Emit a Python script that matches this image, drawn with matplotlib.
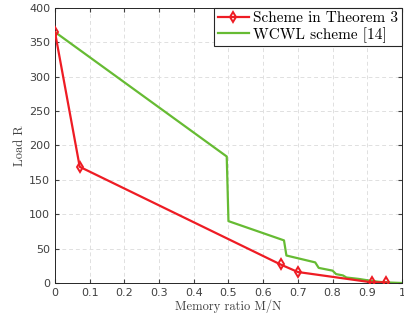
import matplotlib
matplotlib.use("Agg")
import matplotlib.pyplot as plt

red_x = [0, 0.0714, 0.65, 0.70, 0.913, 0.955]
red_y = [365, 169, 27, 16, 1, 1]

green_x = [0, 0.495, 0.50, 0.66, 0.667, 0.75, 0.76, 0.80, 0.81, 0.83, 0.84, 0.875, 0.90, 0.93, 0.95, 1.0]
green_y = [365, 184, 90, 62, 40, 30, 22, 18, 13, 11, 8, 6, 4, 2, 1, 0]

xticks = [0, 0.1, 0.2, 0.3, 0.4, 0.5, 0.6, 0.7, 0.8, 0.9, 1]
xticklabels = ["0", "0.1", "0.2", "0.3", "0.4", "0.5", "0.6", "0.7", "0.8", "0.9", "1"]
yticks = [0, 50, 100, 150, 200, 250, 300, 350, 400]

fig = plt.figure(figsize=(4.04, 3.18), dpi=100)
ax = fig.add_axes([0.136, 0.110, 0.859, 0.865])

ax.plot(red_x, red_y, color="#ee1c24", lw=1.6, marker="d", ms=5.5, mfc="none",
        mec="#ee1c24", mew=1.4, label="Scheme in Theorem 3", zorder=3)
ax.plot(green_x, green_y, color="#66bb33", lw=1.6, label="WCWL scheme [14]", zorder=2)

ax.set_xlim(0, 1)
ax.set_ylim(0, 400)
ax.set_xticks(xticks)
ax.set_xticklabels(xticklabels)
ax.set_yticks(yticks)
ax.grid(True, ls=(0, (4, 3)), color="#e0e0e0", lw=0.7)
ax.set_axisbelow(True)
ax.tick_params(direction="in", length=3, labelsize=8, colors="#404040", top=True, right=True)
for s in ax.spines.values():
    s.set_color("#262626")
    s.set_linewidth(0.7)

ax.set_xlabel("Memory ratio M/N", fontsize=9, family="cmr10", color="#404040", labelpad=1)
ax.set_ylabel("Load R", fontsize=9, family="cmr10", color="#404040", labelpad=2)

leg = ax.legend(loc="upper right", prop={"family": "cmr10", "size": 11}, fancybox=False,
                framealpha=1, edgecolor="#262626", borderaxespad=0.0, handlelength=2.0,
                borderpad=0.25, labelspacing=0.1, handletextpad=0.3)
leg.get_frame().set_linewidth(0.8)

fig.savefig("out.png", dpi=100)
